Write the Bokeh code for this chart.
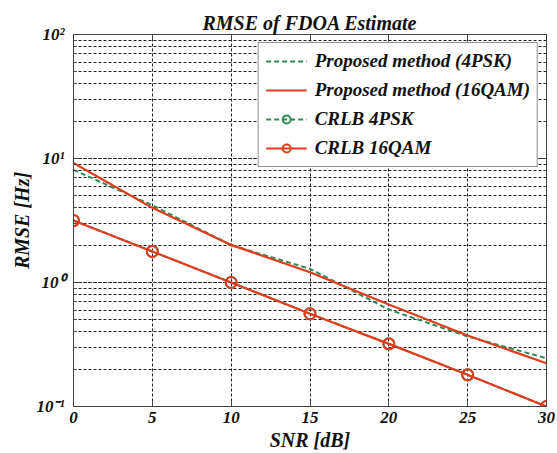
from bokeh.plotting import figure
from bokeh.models import LinearAxis, LogAxis, Legend, LegendItem, FixedTicker, Range1d
from bokeh.embed import file_html
from bokeh.resources import INLINE

snr = [0, 5, 10, 15, 20, 25, 30]
prop_4psk = [8.1, 4.2, 2.0, 1.29, 0.605, 0.367, 0.245]
prop_16qam = [9.2, 4.0, 2.01, 1.21, 0.665, 0.374, 0.223]
crlb_4psk = [3.16, 1.78, 1.0, 0.56, 0.32, 0.18, 0.1]
crlb_16qam = [3.16, 1.78, 1.0, 0.56, 0.32, 0.18, 0.1]
x_ticks = [0, 5, 10, 15, 20, 25, 30]
y_ticks = [0.1, 1, 10, 100]
y_tick_labels = ["10\u207b\u00b9", "10\u2070", "10\u00b9", "10\u00b2"]

GREEN = "#2e8b57"
RED = "#e03c1e"
FONT = "Liberation Serif"

p = figure(width=557, height=453, y_axis_type="log", output_backend="svg",
           toolbar_location=None, x_range=Range1d(0, 30), y_range=Range1d(0.1, 100),
           min_border_left=73, min_border_right=11, min_border_top=34, min_border_bottom=47)
p.background_fill_color = "white"
p.border_fill_color = "white"
p.outline_line_color = "#444444"

p.title.text = "RMSE of FDOA Estimate"
p.title.align = "center"
p.title.text_font = FONT
p.title.text_font_style = "bold italic"
p.title.text_font_size = "20px"
p.title.text_color = "#111111"
p.title.standoff = 2

for g in (p.xgrid, p.ygrid):
    g.grid_line_color = "#222222"
    g.grid_line_dash = "3 2"
    g.grid_line_width = 1
p.ygrid.minor_grid_line_color = "#222222"
p.ygrid.minor_grid_line_dash = "3 2"

xa = p.xaxis[0]
ya = p.yaxis[0]
xa.ticker = FixedTicker(ticks=x_ticks)
for ax in (xa, ya):
    ax.axis_line_color = "#444444"
    ax.major_tick_in = 5
    ax.major_tick_out = 0
    ax.major_tick_line_color = "#444444"
    ax.minor_tick_in = 3
    ax.minor_tick_out = 0
    ax.minor_tick_line_color = "#444444"
    ax.major_label_text_font = FONT
    ax.major_label_text_font_style = "bold italic"
    ax.major_label_text_font_size = "17px"
    ax.major_label_text_color = "#111111"
    ax.axis_label_text_font = FONT
    ax.axis_label_text_font_style = "bold italic"
    ax.axis_label_text_font_size = "20px"
    ax.axis_label_text_color = "#111111"
xa.minor_tick_line_color = None
xa.axis_label = "SNR [dB]"
xa.axis_label_standoff = 3
xa.major_label_standoff = 5
ya.axis_label = "RMSE [Hz]"
ya.axis_label_standoff = 0
ya.major_label_standoff = 9
ya.major_label_overrides = dict(zip(y_ticks, y_tick_labels))

top = LinearAxis(ticker=FixedTicker(ticks=x_ticks), major_label_text_font_size="1px",
                 major_label_text_color=None, major_label_standoff=0,
                 major_tick_in=5, major_tick_out=0, minor_tick_line_color=None,
                 axis_line_color="#444444", major_tick_line_color="#444444")
right = LogAxis(major_label_text_font_size="1px", major_label_text_color=None,
                major_label_standoff=0, major_tick_in=5, major_tick_out=0,
                minor_tick_in=3, minor_tick_out=0, axis_line_color="#444444",
                major_tick_line_color="#444444", minor_tick_line_color="#444444")
p.add_layout(top, "above")
p.add_layout(right, "right")

r1 = p.line(snr, prop_4psk, line_color=GREEN, line_width=2, line_dash="5 3")
r2 = p.line(snr, prop_16qam, line_color=RED, line_width=2.2)
r3l = p.line(snr, crlb_4psk, line_color=GREEN, line_width=2, line_dash="5 3")
r3m = p.scatter(snr, crlb_4psk, marker="circle", size=11, line_color=GREEN,
                fill_color=None, line_width=2)
r4l = p.line(snr, crlb_16qam, line_color=RED, line_width=2.2)
r4m = p.scatter(snr, crlb_16qam, marker="circle", size=11, line_color=RED,
                fill_color=None, line_width=2)

legend = Legend(items=[
    LegendItem(label="Proposed method (4PSK)", renderers=[r1]),
    LegendItem(label="Proposed method (16QAM)", renderers=[r2]),
    LegendItem(label="CRLB 4PSK", renderers=[r3l, r3m]),
    LegendItem(label="CRLB 16QAM", renderers=[r4l, r4m]),
], location="top_right")
legend.margin = 8
legend.padding = 7
legend.spacing = 7
legend.glyph_width = 41
legend.glyph_height = 20
legend.label_height = 20
legend.label_standoff = 8
legend.label_text_font = FONT
legend.label_text_font_style = "bold italic"
legend.label_text_font_size = "19px"
legend.label_text_color = "#111111"
legend.border_line_color = "#222222"
legend.border_line_width = 1
legend.background_fill_color = "white"
legend.background_fill_alpha = 1
p.add_layout(legend, "center")

open("out.html", "w").write(file_html(p, INLINE))
